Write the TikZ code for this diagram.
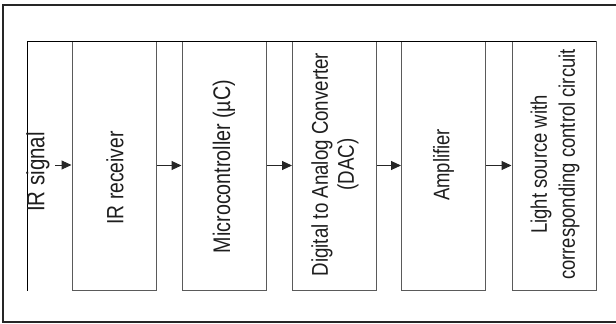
\documentclass[tikz,border=0pt]{standalone}
\usepackage{fontspec}
\setmainfont{Liberation Sans}[FakeStretch=0.82]
\usetikzlibrary{arrows.meta}
\definecolor{boxline}{HTML}{5A5A5A}
\definecolor{txtcol}{HTML}{1E1E1E}
\tikzset{
  blk/.style={draw=boxline, line width=1pt, fill=white, minimum width=84pt, minimum height=249pt, inner sep=0pt},
  lbl/.style={rotate=90, align=center, text=txtcol, inner sep=0pt, font=\fontsize{22.8}{26}\selectfont},
  flow/.style={-{Triangle[length=10pt,width=9pt]}, line width=1pt, draw=black!85},
}
\begin{document}
\begin{tikzpicture}[x=1pt,y=-1pt]
\useasboundingbox (0,0) rectangle (616,324);
% outer frame (right edge cut off)
\draw[line width=2pt, black!85] (640,5) -- (3,5) -- (3,322) -- (640,322);
% inner frame lines
\coordinate (tl) at (27,41);
\coordinate (bl) at (27,290.5);
\coordinate (tr) at (596,41);
% blocks
\node[blk] (b1) at (114,165.5) {};
\node[blk] (b2) at (224,165.5) {};
\node[blk] (b3) at (334.5,165.5) {};
\node[blk] (b4) at (443.5,165.5) {};
\node[blk] (b5) at (554,165.5) {};
\draw[line width=1pt] (bl) -- (tl) -- (tr);
% labels
\node[lbl, font=\fontsize{25}{26}\selectfont] (sig) at (38,172) {IR signal};
\node[lbl, font=\fontsize{23.5}{26}\selectfont] (t1) at (115,178) {IR receiver};
\node[lbl, font=\fontsize{24}{26}\selectfont] (t2) at (224,166.5) {Microcontroller (µC)};
\node[lbl] (t3) at (335,164.5) {Digital to Analog Converter\\(DAC)};
\node[lbl, font=\fontsize{22.5}{28}\selectfont] (t4) at (443.5,165) {Amplifier};
\node[lbl, font=\fontsize{22.5}{28}\selectfont] (t5) at (555,164.5) {Light source with\\corresponding control circuit};
% arrows
\coordinate (in) at (55,165);
\draw[flow] (in) -- (in -| b1.west);
\draw[flow] (b1.east) -- (b2.west);
\draw[flow] (b2.east) -- (b3.west);
\draw[flow] (b3.east) -- (b4.west);
\draw[flow] (b4.east) -- (b5.west);
\end{tikzpicture}
\end{document}
